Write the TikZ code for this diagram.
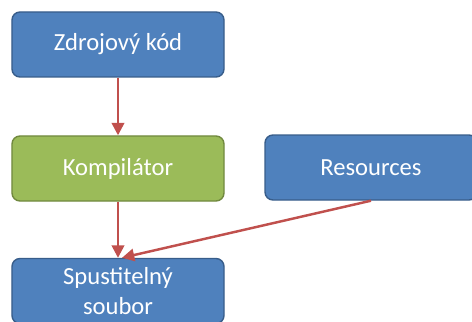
\documentclass[tikz,border=0pt]{standalone}
\usepackage{fontspec}
\setmainfont{Carlito}
\usetikzlibrary{arrows.meta}
\definecolor{boxblue}{HTML}{4F81BD}
\definecolor{boxblueline}{HTML}{385D8A}
\definecolor{boxgreen}{HTML}{9BBB59}
\definecolor{boxgreenline}{HTML}{71893F}
\definecolor{arrowred}{HTML}{C0504D}
\tikzset{
	blok/.style={draw=boxblueline, fill=boxblue, line width=0.8pt, rounded corners=0.16cm,
		minimum width=4.24cm, minimum height=1.3cm, text=white, align=center,
		font=\fontsize{14}{17}\selectfont, inner sep=0pt},
	zelenyblok/.style={blok, draw=boxgreenline, fill=boxgreen},
	sipka/.style={draw=arrowred, line width=1.4pt, -{Triangle[length=7pt,width=7pt]}}
}
\begin{document}
\begin{tikzpicture}
		\useasboundingbox (0,0) rectangle (9.44,-6.44);
		\node[blok] (kod) at (2.36,-0.89) {Zdrojový kód};
		\node[zelenyblok] (komp) at (2.36,-3.37) {Kompilátor};
		\node[blok] (res) at (7.42,-3.35) {Resources};
		\node[blok] (exe) at (2.36,-5.82) {Spustitelný\\soubor};
		\draw[sipka] (kod) -- (komp);
		\draw[sipka] (komp) -- (exe);
		\draw[sipka] (res.south) -- ([xshift=0.08cm]exe.north);
	\end{tikzpicture}
\end{document}
